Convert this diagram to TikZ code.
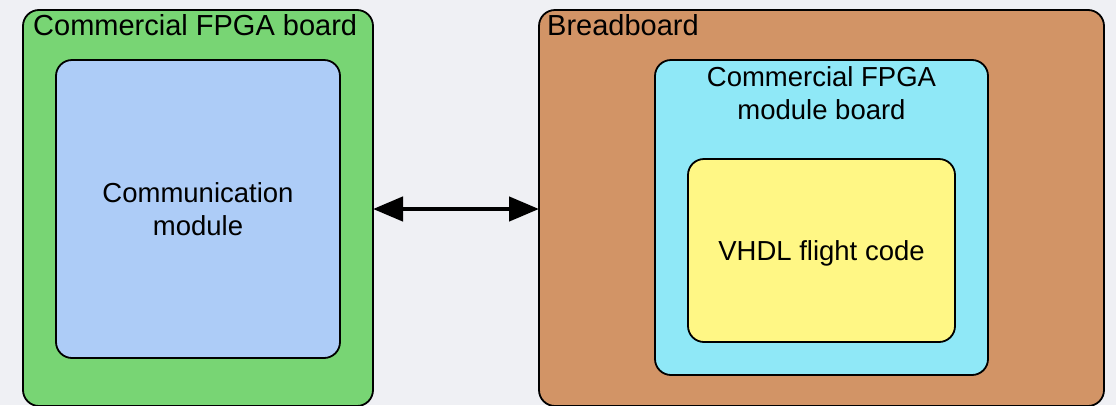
\documentclass[tikz,border=0pt]{standalone}
\usepackage{fontspec}
\setmainfont{Liberation Sans}
\usetikzlibrary{arrows.meta}
\definecolor{pagebg}{HTML}{EFF0F4}
\definecolor{boardgreen}{HTML}{78D574}
\definecolor{commblue}{HTML}{ADCCF7}
\definecolor{breadbrown}{HTML}{D29466}
\definecolor{modcyan}{HTML}{8FE8F7}
\definecolor{codeyellow}{HTML}{FFF785}
\begin{document}
\begin{tikzpicture}[x=1pt,y=-1pt,
  panel/.style={draw=black, line width=1.8pt, rounded corners=16pt,
    inner sep=0pt, outer sep=0pt},
  title/.style={inner sep=0pt, font=\fontsize{29}{35}\selectfont},
  label/.style={inner sep=0pt, align=center, font=\fontsize{27.5}{33}\selectfont},
  link/.style={line width=4.5pt, {Triangle[length=30pt,width=24pt]}-{Triangle[length=30pt,width=24pt]}}]
  % page
  \fill[pagebg] (0,0) rectangle (1116,405);
  \useasboundingbox (0,0) rectangle (1116,405);

  % left board
  \node[panel, fill=boardgreen, minimum width=350pt, minimum height=396pt] (fpga) at (198,208) {};
  \node[panel, fill=commblue, minimum width=284pt, minimum height=298pt] (comm) at (198,209) {};
  \node[title, anchor=base west] (fpgatitle) at (33,35) {Commercial FPGA board};
  \node[label, anchor=base] (commtext) at (198,235) {Communication\\module};

  % right board
  \node[panel, fill=breadbrown, minimum width=565pt, minimum height=396pt] (bread) at (821.5,208) {};
  \node[panel, fill=modcyan, minimum width=333pt, minimum height=315pt] (mod) at (821.5,217.5) {};
  \node[panel, fill=codeyellow, minimum width=267pt, minimum height=183pt] (code) at (821.5,250.5) {};
  \node[title, anchor=base west] (breadtitle) at (547,35) {Breadboard};
  \node[label, anchor=base] (modtext) at (821.5,119) {Commercial FPGA\\module board};
  \node[label, anchor=base] (codetext) at (821.5,260) {VHDL flight code};

  % link between the boards
  \draw[link] (fpga.east |- comm.center) -- (bread.west |- comm.center);
\end{tikzpicture}
\end{document}
